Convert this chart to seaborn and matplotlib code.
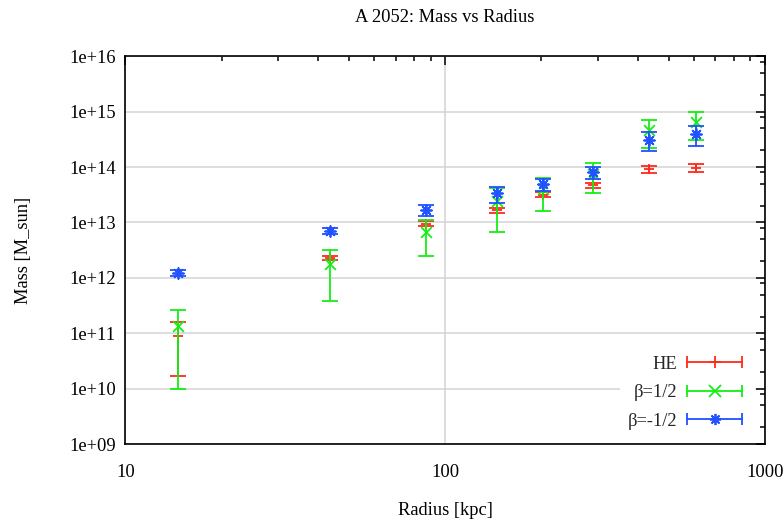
import numpy as np
import pandas as pd
import matplotlib
matplotlib.use("Agg")
import matplotlib.pyplot as plt
from matplotlib.lines import Line2D
from matplotlib.legend_handler import HandlerLine2D
from matplotlib.ticker import FixedLocator, FuncFormatter, NullFormatter
import seaborn as sns

# Radial bins of A 2052 (kpc)
radius_kpc = [14.6, 43.5, 87.3, 145, 203, 289, 435, 609]

# Hydrostatic-equilibrium mass and its uncertainty (M_sun)
mass_he = [8.8e10, 2.3e12, 9.5e12, 1.68e13, 3.2e13, 4.75e13, 9.1e13, 9.8e13]
err_he = [7.1e10, 2.1e11, 1.0e12, 1.7e12, 2.8e12, 5.0e12, 1.25e13, 1.55e13]

# beta = 1/2 model
mass_bp = [1.38e11, 1.76e12, 6.8e12, 2.46e13, 4.0e13, 7.6e13, 4.6e14, 6.5e14]
err_bp = [1.28e11, 1.38e12, 4.3e12, 1.78e13, 2.42e13, 4.25e13, 2.4e14, 3.4e14]

# beta = -1/2 model
mass_bm = [1.24e12, 7.05e12, 1.69e13, 3.35e13, 4.94e13, 8.15e13, 3.09e14, 4.0e14]
err_bm = [1.7e11, 7.5e11, 3.6e12, 1.1e13, 1.2e13, 2.0e13, 1.15e14, 1.6e14]

series_labels = ["HE", "β=1/2", "β=-1/2"]
x_tick_values = [10, 100, 1000]
x_tick_labels = ["10", "100", "1000"]
y_tick_values = [1e9, 1e10, 1e11, 1e12, 1e13, 1e14, 1e15, 1e16]

colors = {"HE": "#ff2a1a", "β=1/2": "#14ee14", "β=-1/2": "#2052ff"}
markers = {"HE": "+", "β=1/2": "x", "β=-1/2": (8, 2, 0)}

frames = []
for lab, m, e in zip(series_labels, [mass_he, mass_bp, mass_bm], [err_he, err_bp, err_bm]):
    frames.append(pd.DataFrame({"radius": radius_kpc, "mass": m, "err": e, "model": lab}))
df = pd.concat(frames, ignore_index=True)

sns.set_theme(style="white")
plt.rcParams["font.family"] = ["Liberation Serif", "DejaVu Serif"]
plt.rcParams["mathtext.fontset"] = "dejavuserif"

FS = 13.3
fig = plt.figure(figsize=(7.84, 5.25), dpi=100)
ax = fig.add_axes([0.16, 0.1541, 0.8156, 0.7387])

ax.set_xscale("log")
ax.set_yscale("log")

lw = 1.3
handles = []
hmap = {}
for i, lab in enumerate(series_labels):
    sub = df[df["model"] == lab]
    c = colors[lab]
    ax.errorbar(sub["radius"], sub["mass"], yerr=sub["err"], fmt="none",
                ecolor=c, elinewidth=lw, capsize=5.5, capthick=lw, zorder=3 + i * 0.1)
    sns.scatterplot(data=sub, x="radius", y="mass", marker=markers[lab], color=c,
                    s=60, linewidth=lw, ax=ax, zorder=3.05 + i * 0.1, legend=False)
    caps = Line2D([], [], color=c, lw=lw, marker="|", markersize=8, mew=lw)
    mk = Line2D([], [], color=c, ls="none", marker=markers[lab], markersize=8, mew=lw)
    hmap[caps] = HandlerLine2D(numpoints=2)
    hmap[mk] = HandlerLine2D(numpoints=1)
    handles.append((caps, mk))

ax.set_xlim(10, 1000)
ax.set_ylim(1e9, 1e16)

ax.xaxis.set_major_locator(FixedLocator(x_tick_values))
ax.set_xticklabels(x_tick_labels)
ax.xaxis.set_minor_locator(FixedLocator([d * k for d in (10, 100) for k in range(2, 10)]))
ax.xaxis.set_minor_formatter(NullFormatter())

ax.yaxis.set_major_locator(FixedLocator(y_tick_values))
ax.yaxis.set_major_formatter(FuncFormatter(lambda v, p: f"{v:.0e}"))
ax.yaxis.set_minor_locator(FixedLocator([10.0 ** d * k for d in range(9, 16) for k in (2, 5, 8)]))
ax.yaxis.set_minor_formatter(NullFormatter())

ax.tick_params(which="both", direction="in", top=True, right=True, color="black",
               width=1.1, labelsize=FS, labelcolor="black")
ax.tick_params(which="major", length=6.5)
ax.tick_params(which="minor", length=3.3)
ax.tick_params(axis="x", which="major", pad=14)
ax.tick_params(axis="y", which="major", pad=7)

ax.grid(True, which="major", color="#d3d3d3", lw=1.1)
ax.grid(False, which="minor")
ax.set_axisbelow(True)
for sp in ax.spines.values():
    sp.set_color("black")
    sp.set_linewidth(1.2)

ax.set_title("A 2052: Mass vs Radius", fontsize=FS, color="black", pad=25)
ax.set_xlabel("Radius [kpc]", fontsize=FS, color="black")
ax.set_ylabel("Mass [M_sun]", fontsize=FS, color="black")
ax.xaxis.set_label_coords(0.5, -0.149)
ax.yaxis.set_label_coords(-0.146, 0.5)

leg = ax.legend(handles, series_labels, handler_map=hmap, loc="center right",
                bbox_to_anchor=(0.999, 0.132), fontsize=FS, markerfirst=False,
                handlelength=3.57, handletextpad=0.25, labelspacing=0.62,
                borderpad=0.4, frameon=True, fancybox=False, framealpha=1.0)
leg.get_frame().set_edgecolor("none")
leg.get_frame().set_facecolor("white")

fig.savefig("out.png", dpi=100)
